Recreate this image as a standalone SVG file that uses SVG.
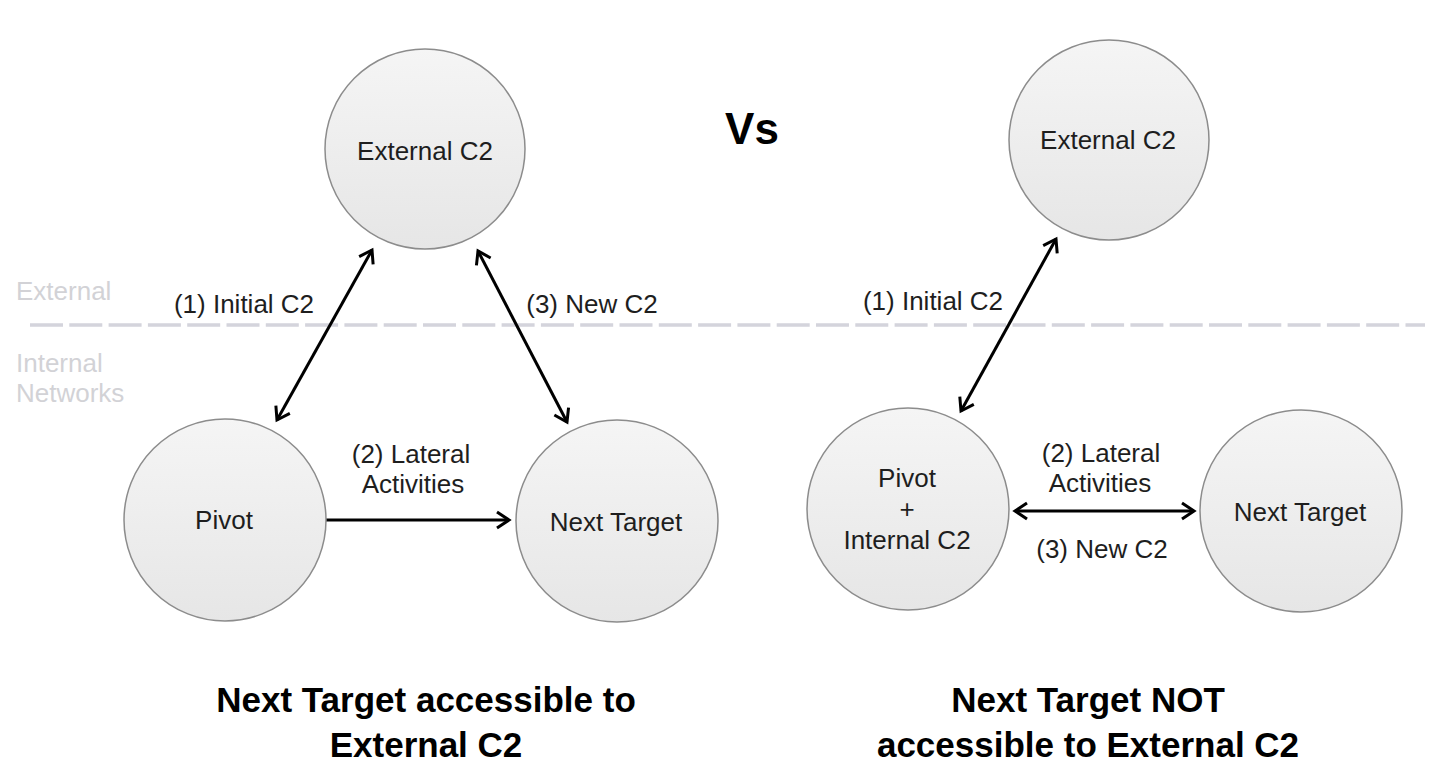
<svg xmlns="http://www.w3.org/2000/svg" width="1450" height="781" viewBox="0 0 1450 781">
<style>
.node{stroke:#8c8c8c;stroke-width:1.5;fill:url(#g)}
.t{font-family:"Liberation Sans",Arial,sans-serif;font-size:26px;fill:#1e1e1e;text-anchor:middle}
.zone{font-family:"Liberation Sans",Arial,sans-serif;font-size:26px;fill:#d2d2d6}
.title{font-family:"Liberation Sans",Arial,sans-serif;font-size:35px;font-weight:bold;fill:#000;text-anchor:middle}
.edge{stroke:#000;stroke-width:3;fill:none}
</style>
<defs>
<linearGradient id="g" x1="0" y1="0" x2="0" y2="1">
<stop offset="0" stop-color="#f5f5f5"/>
<stop offset="1" stop-color="#e6e6e6"/>
</linearGradient>
<marker id="ah" viewBox="-16 -10 20 20" refX="0" refY="0" markerWidth="20" markerHeight="20" markerUnits="userSpaceOnUse" orient="auto-start-reverse">
<path d="M-12,-8 L0,0 L-12,8" fill="none" stroke="#000" stroke-width="3" stroke-linejoin="miter"/>
</marker>
</defs>
<rect width="1450" height="781" fill="#fff"/>
<g id="zones">
<line x1="30" y1="325" x2="1425" y2="325" stroke="#d4d4dc" stroke-width="3.5" stroke-dasharray="33 6.3"/>
<text class="zone" x="16" y="300">External</text>
<text class="zone" x="16" y="372">Internal</text>
<text class="zone" x="16" y="402">Networks</text>
</g>
<g id="connectors">
<line class="edge" x1="372" y1="250" x2="277" y2="420" marker-start="url(#ah)" marker-end="url(#ah)"/>
<line class="edge" x1="478" y1="251" x2="567" y2="422" marker-start="url(#ah)" marker-end="url(#ah)"/>
<line class="edge" x1="326" y1="520" x2="509" y2="520" marker-end="url(#ah)"/>
<line class="edge" x1="1056" y1="239" x2="961" y2="411" marker-start="url(#ah)" marker-end="url(#ah)"/>
<line class="edge" x1="1015" y1="511" x2="1194" y2="511" marker-start="url(#ah)" marker-end="url(#ah)"/>
<text class="t" x="244" y="313">(1) Initial C2</text>
<text class="t" x="592" y="313">(3) New C2</text>
<text class="t" x="411" y="463">(2) Lateral</text>
<text class="t" x="413" y="493">Activities</text>
<text class="t" x="933" y="310">(1) Initial C2</text>
<text class="t" x="1101" y="462">(2) Lateral</text>
<text class="t" x="1100" y="492">Activities</text>
<text class="t" x="1102" y="558">(3) New C2</text>
</g>
<g id="ext-c2-left">
<circle class="node" cx="425" cy="149" r="100"/>
<text class="t" x="425" y="160">External C2</text>
</g>
<g id="pivot-left">
<circle class="node" cx="225" cy="520" r="101"/>
<text class="t" x="224" y="529">Pivot</text>
</g>
<g id="next-left">
<circle class="node" cx="617" cy="521" r="101"/>
<text class="t" x="616" y="531">Next Target</text>
</g>
<g id="ext-c2-right">
<circle class="node" cx="1109" cy="140" r="100"/>
<text class="t" x="1108" y="149">External C2</text>
</g>
<g id="pivot-right">
<circle class="node" cx="908" cy="509" r="101"/>
<text class="t" x="907" y="487">Pivot</text>
<text class="t" x="907" y="518">+</text>
<text class="t" x="907" y="549">Internal C2</text>
</g>
<g id="next-right">
<circle class="node" cx="1301" cy="511" r="101"/>
<text class="t" x="1300" y="521">Next Target</text>
</g>
<g id="titles">
<text class="title" x="752" y="144" style="font-size:44px">Vs</text>
<text class="title" x="426" y="712">Next Target accessible to</text>
<text class="title" x="426" y="757">External C2</text>
<text class="title" x="1088" y="712">Next Target NOT</text>
<text class="title" x="1088" y="757">accessible to External C2</text>
</g>
</svg>
